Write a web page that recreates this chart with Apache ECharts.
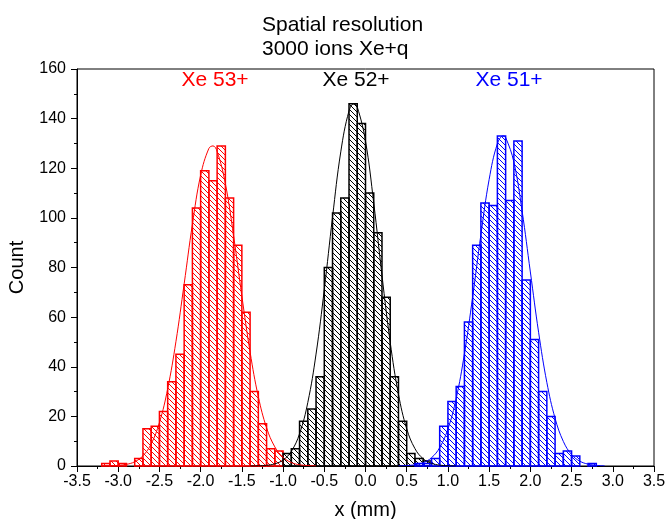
<!DOCTYPE html>
<html>
<head>
<meta charset="utf-8">
<script src="https://cdn.jsdelivr.net/npm/echarts@6/dist/echarts.min.js"></script>
<style>
  html, body { margin: 0; padding: 0; background: #fff; }
  #chart { width: 666px; height: 519px; }
</style>
</head>
<body>
<div id="chart"></div>
<script>
// ---------- data ----------
const binWidth = 0.1;

const xTicks = [-3.5, -3.0, -2.5, -2.0, -1.5, -1.0, -0.5, 0.0, 0.5, 1.0, 1.5, 2.0, 2.5, 3.0, 3.5];
const yTicks = [0, 20, 40, 60, 80, 100, 120, 140, 160];

// Xe 53+ (red) histogram: bin left edges and counts
const redBinLeft = [-3.2, -3.1, -3.0, -2.9, -2.8, -2.7, -2.6, -2.5, -2.4, -2.3, -2.2, -2.1, -2.0, -1.9, -1.8, -1.7, -1.6, -1.5, -1.4, -1.3, -1.2, -1.1];
const redCounts  = [1, 2, 1, 0, 3, 15, 16, 22, 34, 45, 73, 104, 119, 115, 129, 108, 89, 62, 30, 17, 7, 6];

// Xe 52+ (black) histogram
const blackBinLeft = [-1.0, -0.9, -0.8, -0.7, -0.6, -0.5, -0.4, -0.3, -0.2, -0.1, 0.0, 0.1, 0.2, 0.3, 0.4, 0.5, 0.6, 0.7];
const blackCounts  = [5, 7, 18, 23, 36, 80, 102, 108, 146, 138, 110, 94, 68, 36, 18, 5, 3, 2];

// Xe 51+ (blue) histogram
const blueBinLeft = [0.6, 0.7, 0.8, 0.9, 1.0, 1.1, 1.2, 1.3, 1.4, 1.5, 1.6, 1.7, 1.8, 1.9, 2.0, 2.1, 2.2, 2.3, 2.4, 2.5, 2.6, 2.7];
const blueCounts  = [1, 1, 3, 16, 26, 32, 58, 89, 106, 105, 133, 107, 131, 75, 51, 30, 20, 5, 6, 4, 0, 1];

// Fitted curves, values
const redFitX = [-3.2, -3.1, -3.0, -2.9, -2.8, -2.7, -2.6, -2.5, -2.4, -2.3, -2.2, -2.1, -2.0, -1.9, -1.85, -1.8, -1.7, -1.6, -1.5, -1.4, -1.3, -1.2, -1.1, -1.0, -0.9, -0.8, -0.7, -0.6];
const redFitY = [0.02, 0.07, 0.23, 0.66, 1.7, 4.1, 8.9, 17.5, 31.1, 50.1, 73.4, 97.4, 117.2, 128.0, 129.0, 126.8, 113.8, 92.7, 68.5, 45.9, 27.9, 15.4, 7.7, 3.5, 1.4, 0.5, 0.18, 0.05];

const blackFitX = [-1.4, -1.3, -1.2, -1.1, -1.0, -0.9, -0.8, -0.7, -0.6, -0.5, -0.4, -0.3, -0.2, -0.14, -0.1, 0.0, 0.1, 0.2, 0.3, 0.4, 0.5, 0.6, 0.7, 0.8, 0.9, 1.0, 1.1];
const blackFitY = [0.02, 0.08, 0.28, 0.87, 2.4, 5.9, 13.0, 25.6, 45.1, 71.1, 100.3, 126.6, 143.1, 146.0, 144.7, 130.9, 106.0, 76.8, 49.8, 28.9, 15.0, 7.0, 2.9, 1.1, 0.36, 0.11, 0.03];

const blueFitX = [0.4, 0.5, 0.6, 0.7, 0.8, 0.9, 1.0, 1.1, 1.2, 1.3, 1.4, 1.5, 1.6, 1.67, 1.7, 1.8, 1.9, 2.0, 2.1, 2.2, 2.3, 2.4, 2.5, 2.6, 2.7, 2.8, 2.9];
const blueFitY = [0.05, 0.17, 0.5, 1.34, 3.3, 7.4, 14.9, 27.2, 45.2, 68.2, 93.2, 115.5, 129.9, 133.0, 132.4, 122.5, 102.7, 78.2, 53.9, 33.7, 19.2, 9.9, 4.6, 1.95, 0.75, 0.26, 0.08];

const labels = ['Xe 53+', 'Xe 52+', 'Xe 51+'];

// ---------- chart ----------
const FONT = '"Liberation Sans", Arial, sans-serif';
const RED = '#ff0000', BLACK = '#000000', BLUE = '#0000ff';

function hatch(color) {
  const s = 5;
  const c = document.createElement('canvas');
  c.width = s; c.height = s;
  const g = c.getContext('2d');
  g.strokeStyle = color;
  g.lineWidth = 1;
  g.beginPath();
  g.moveTo(-1, -1); g.lineTo(s + 1, s + 1);
  g.moveTo(-1, s - 1); g.lineTo(1, s + 1);
  g.moveTo(s - 1, -1); g.lineTo(s + 1, 1);
  g.stroke();
  return c;
}

function histSeries(name, lefts, counts, color) {
  const pattern = { image: hatch(color), repeat: 'repeat' };
  return {
    name: name,
    type: 'custom',
    data: lefts.map((l, i) => [l, counts[i]]),
    encode: { x: 0, y: 1 },
    z: 2,
    renderItem: function (params, api) {
      const x0 = api.value(0), y = api.value(1);
      if (!y) return null;
      const p0 = api.coord([x0, y]);
      const p1 = api.coord([x0 + binWidth, 0]);
      return {
        type: 'rect',
        shape: { x: p0[0], y: p0[1], width: p1[0] - p0[0], height: p1[1] - p0[1] },
        style: { fill: pattern, stroke: color, lineWidth: 1.5 }
      };
    }
  };
}

function fitSeries(name, xs, ys, color) {
  return {
    name: name,
    type: 'line',
    data: xs.map((x, i) => [x, ys[i]]),
    smooth: 0.4,
    showSymbol: false,
    z: 3,
    lineStyle: { color: color, width: 1 },
    silent: true
  };
}

const chart = echarts.init(document.getElementById('chart'), null, { renderer: 'canvas' });

chart.setOption({
  animation: false,
  backgroundColor: '#ffffff',
  title: {
    text: 'Spatial resolution\n3000 ions Xe+q',
    left: 262,
    top: 13,
    padding: 0,
    textStyle: { fontSize: 21, lineHeight: 24, fontWeight: 'normal', color: '#000', fontFamily: FONT }
  },
  grid: {
    left: 77, right: 12, top: 69, bottom: 53,
    outerBoundsMode: 'none',
    containLabel: false,
    show: true, borderColor: '#000', borderWidth: 1, backgroundColor: 'transparent'
  },
  xAxis: {
    type: 'value',
    min: xTicks[0], max: xTicks[xTicks.length - 1], interval: 0.5,
    name: 'x (mm)',
    nameLocation: 'middle',
    nameGap: 34,
    nameTextStyle: { fontSize: 20, color: '#000', fontFamily: FONT },
    axisLine: { show: true, onZero: false, lineStyle: { color: '#000', width: 1 } },
    axisTick: { show: true, inside: false, length: 6, lineStyle: { color: '#000' } },
    minorTick: { show: true, splitNumber: 2, length: 3, lineStyle: { color: '#000' } },
    splitLine: { show: false },
    axisLabel: { fontSize: 16, color: '#000', fontFamily: FONT, margin: 8, formatter: v => v.toFixed(1) }
  },
  yAxis: {
    type: 'value',
    min: yTicks[0], max: yTicks[yTicks.length - 1], interval: 20,
    name: 'Count',
    nameLocation: 'middle',
    nameGap: 50,
    nameTextStyle: { fontSize: 20, color: '#000', fontFamily: FONT },
    axisLine: { show: true, onZero: false, lineStyle: { color: '#000', width: 1 } },
    axisTick: { show: true, inside: false, length: 6, lineStyle: { color: '#000' } },
    minorTick: { show: true, splitNumber: 2, length: 3, lineStyle: { color: '#000' } },
    splitLine: { show: false },
    axisLabel: { fontSize: 16, color: '#000', fontFamily: FONT, margin: 11 }
  },
  graphic: [
    { type: 'text', x: 215, y: 80, z: 10, style: { text: labels[0], fill: RED, font: '21px ' + FONT, align: 'center', verticalAlign: 'middle' } },
    { type: 'text', x: 356, y: 80, z: 10, style: { text: labels[1], fill: BLACK, font: '21px ' + FONT, align: 'center', verticalAlign: 'middle' } },
    { type: 'text', x: 509, y: 80, z: 10, style: { text: labels[2], fill: BLUE, font: '21px ' + FONT, align: 'center', verticalAlign: 'middle' } }
  ],
  series: [
    histSeries(labels[0], redBinLeft, redCounts, RED),
    histSeries(labels[1], blackBinLeft, blackCounts, BLACK),
    histSeries(labels[2], blueBinLeft, blueCounts, BLUE),
    fitSeries(labels[0] + ' fit', redFitX, redFitY, RED),
    fitSeries(labels[1] + ' fit', blackFitX, blackFitY, BLACK),
    fitSeries(labels[2] + ' fit', blueFitX, blueFitY, BLUE)
  ]
});
</script>
</body>
</html>
